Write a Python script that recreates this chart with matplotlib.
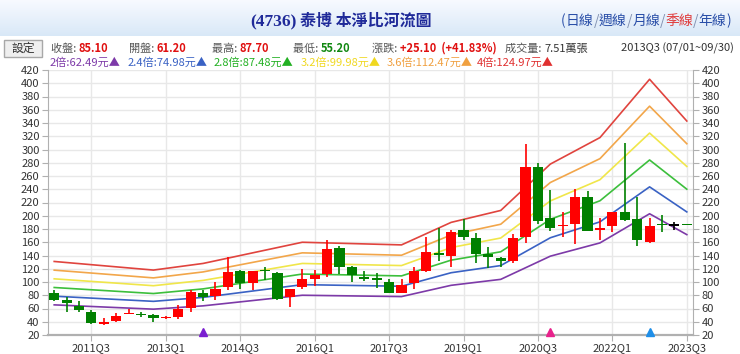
import matplotlib
matplotlib.use('Agg')
import matplotlib.pyplot as plt
import numpy as np
from matplotlib.patches import Rectangle
from matplotlib.transforms import IdentityTransform

plt.rcParams['font.family'] = ['Noto Sans CJK TC', 'DejaVu Sans']

# quarterly candles, index 0 = 2010Q4 ... 51 = 2023Q3
opens = [83, 73, 64, 55, 37, 41, 51, 50.5, 50, 45.5, 47, 61.2, 84, 79, 93, 117, 99, 118,
         113, 77, 93, 105, 112, 152, 122, 108, 104.5, 100, 84, 98, 117, 144, 140, 179, 167,
         143, 136, 131, 168, 273, 196, 184, 187, 228, 179, 184, 206, 195, 161, 186.5, 185, 186.5]
highs = [88, 77, 72, 57, 45, 53, 60, 54, 51, 49, 65, 87.7, 88, 100, 138, 118, 117, 123,
         115, 90, 119, 118, 163, 154, 124, 116, 113, 105, 105, 122, 168, 181, 178, 195, 174,
         153, 138, 173, 309, 280, 239, 205, 240, 238, 197, 205, 310, 229, 196, 201, 190, 187]
lows = [72, 54, 55, 37, 35, 40, 51, 47, 40, 44, 44, 55.2, 72, 73, 88, 90, 88, 103,
        73, 63, 89, 94, 107, 112, 100, 102, 91, 84, 84, 90, 115, 131, 122, 164, 129,
        121, 123, 128, 159, 188, 177, 168, 157, 177, 163, 175, 192, 154, 159, 176, 178, 186]
closes = [73, 68, 57, 38, 40, 49, 52, 49.5, 46, 47, 60, 85.1, 77, 90, 115, 99, 117, 116,
          75, 90, 105, 110, 150, 123, 110, 105, 103.5, 84, 96, 117, 145, 141, 176, 168, 143,
          137, 131, 166, 274, 192, 182, 186, 228, 177, 181, 205, 194, 164, 185, 185.5, 185, 185.8]

tick_idx = [3, 9, 15, 21, 27, 33, 39, 45, 51]
tick_labels = ['2011Q3', '2013Q1', '2014Q3', '2016Q1', '2017Q3', '2019Q1', '2020Q3', '2022Q1', '2023Q3']

# book value per share at the polyline vertices of the river bands
band_idx = [0, 8, 12, 20, 28, 32, 36, 40, 44, 48, 51]
band_base = [32.75, 29.5, 32, 40, 39, 47.5, 52, 69.5, 79.5, 101.5, 85.75]
multiples = [2, 2.4, 2.8, 3.2, 3.6, 4]
band_colors = ['#7d3aa8', '#3a62c4', '#3cbf3c', '#f0e64a', '#f2a64a', '#e0443e']
band_prices = [62.49, 74.98, 87.48, 99.98, 112.47, 124.97]
band_text_colors = ['#7d3aa8', '#3a62c4', '#22b022', '#f0d820', '#f0a040', '#e03030']

marker_idx = [12, 40, 48]
marker_colors = ['#7a1fd0', '#e8228c', '#1e8ee8']

W, H = 740, 354
fig = plt.figure(figsize=(W / 100, H / 100), dpi=100)

# header gradient strip
hax = fig.add_axes([0, 1 - 36 / H, 1, 36 / H])
grad = np.linspace(0, 1, 50).reshape(-1, 1)
top_c = np.array([0.97, 0.98, 1.0])
bot_c = np.array([0.85, 0.91, 0.97])
img = top_c + (bot_c - top_c) * grad[:, :, None]
hax.imshow(img, aspect='auto', extent=[0, 1, 0, 1])
hax.set_axis_off()

ax = fig.add_axes([48 / W, 19 / H, (693 - 48) / W, (335 - 70) / H])

x = np.arange(len(opens))
ax.set_xlim(-0.5, 51.5)
ax.set_ylim(20, 420)
ax.set_yticks(np.arange(20, 421, 20))
ax.set_xticks(tick_idx)
ax.set_xticklabels(tick_labels)
ax.grid(True, color='#e8e8e8', lw=1)
ax.set_axisbelow(True)
for s in ['left', 'right', 'bottom']:
    ax.spines[s].set_color('#b0b0b0')
ax.spines['bottom'].set_linewidth(1.6)
ax.spines['top'].set_visible(False)
ax.tick_params(axis='y', labelsize=8, colors='#333333', right=True, labelright=True,
               length=4, color='#b0b0b0', pad=2)
ax.tick_params(axis='x', labelsize=8, colors='#333333', length=4, color='#b0b0b0', pad=2)

for m, c in zip(multiples, band_colors):
    ax.plot(band_idx, np.array(band_base) * m, color=c, lw=1.2, zorder=2)

for i in x:
    o, h, l, c = opens[i], highs[i], lows[i], closes[i]
    if c > o:
        col = '#ff0000'
    elif c < o:
        col = '#008000'
    else:
        col = '#000000'
    ax.vlines(i, l, h, color=col, lw=1.2, zorder=3)
    bot = min(o, c)
    hgt = max(abs(c - o), 1.8)
    ax.add_patch(Rectangle((i - 0.41, bot), 0.82, hgt, facecolor=col, edgecolor='none', zorder=4))

for i, c in zip(marker_idx, marker_colors):
    ax.plot(i, 24.5, marker='^', color=c, ms=6, clip_on=False, zorder=5)

renderer = fig.canvas.get_renderer()


def runs(x0, y_top, parts, size=8):
    xx = x0
    for s, col, bold in parts:
        t = fig.text(xx, H - y_top, s, transform=IdentityTransform(), fontsize=size,
                     color=col, fontweight='bold' if bold else 'normal', va='baseline')
        xx += t.get_window_extent(renderer).width
    return xx


# title
xx = 250
t = fig.text(xx, H - 26, '(4736)', transform=IdentityTransform(), fontsize=12.5,
             family='Liberation Serif', fontweight='bold', color='#1f2a99', va='baseline')
xx += t.get_window_extent(renderer).width
fig.text(xx + 4, H - 26, '泰博 本淨比河流圖', transform=IdentityTransform(), fontsize=11.5,
         fontweight='bold', color='#1f2a99', va='baseline')

blue = '#2a4fa8'
sep = '#8090b0'
runs(561, 25, [('(', blue, False), ('日線', blue, False), ('/', sep, False), ('週線', blue, False),
               ('/', sep, False), ('月線', blue, False), ('/', sep, False), ('季線', '#e03a3a', False),
               ('/', sep, False), ('年線', blue, False), (')', blue, False)], size=10)

# button
fig.patches.append(Rectangle((4, H - 57), 38, 17, transform=IdentityTransform(),
                             facecolor='#efefef', edgecolor='#a8a8a8', lw=1))
fig.text(23, H - 52, '設定', transform=IdentityTransform(), fontsize=8.5, color='#333333',
         ha='center', va='baseline')

grey = '#555555'
red = '#e01010'
green = '#118811'
runs(51, 52, [('收盤: ', grey, False), ('85.10', red, True)])
runs(129, 52, [('開盤: ', grey, False), ('61.20', red, True)])
runs(212, 52, [('最高: ', grey, False), ('87.70', red, True)])
runs(293, 52, [('最低: ', grey, False), ('55.20', green, True)])
runs(372, 52, [('漲跌: ', grey, False), ('+25.10  (+41.83%)', red, True)])
runs(505, 52, [('成交量: ', grey, False), ('7.51萬張', '#333333', False)])
fig.text(734, H - 52, '2013Q3 (07/01~09/30)', transform=IdentityTransform(), fontsize=8,
         color='#333333', ha='right', va='baseline')

starts = [50, 128, 214, 301, 387, 477]
for x0, m, p, c in zip(starts, multiples, band_prices, band_text_colors):
    ms = f'{m:g}倍:{p:.2f}元▲'
    runs(x0, 66, [(ms, c, False)])

fig.savefig('out.png', dpi=100)
